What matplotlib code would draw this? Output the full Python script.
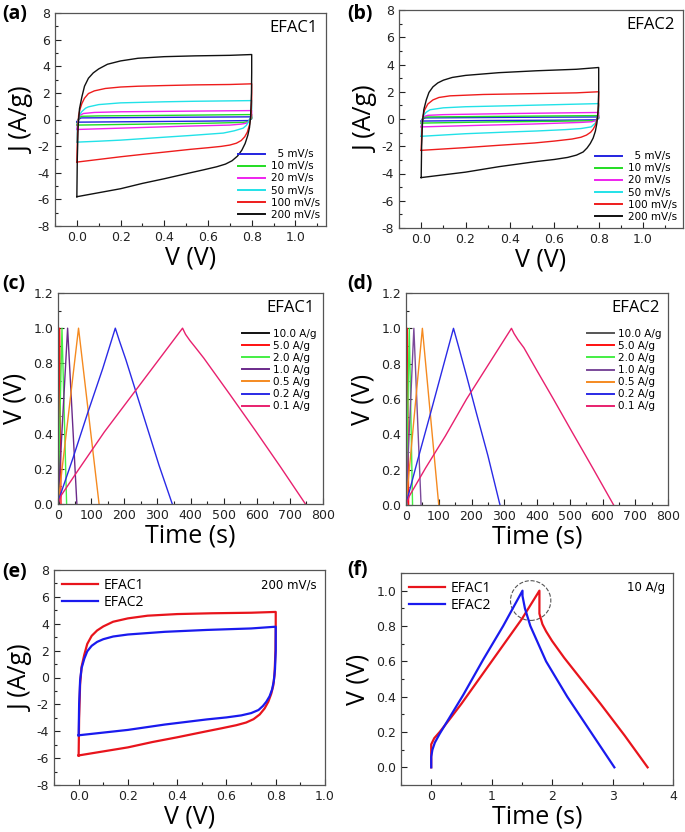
import matplotlib
matplotlib.use('Agg')
import matplotlib.pyplot as plt
from matplotlib.ticker import MultipleLocator, FormatStrFormatter
from matplotlib.patches import Ellipse

plt.rcParams['font.family'] = ['DejaVu Sans']
plt.rcParams['axes.unicode_minus'] = False

# ---------------- CV data, EFAC1 (closed loops, V in V, J in A/g) ----------------
cv1_labels = ['  5 mV/s', '10 mV/s', '20 mV/s', '50 mV/s', '100 mV/s', '200 mV/s']
cv_colors = ['#2424e0', '#22dd22', '#ee22ee', '#22e2e8', '#ee1c1c', '#111111']

cv1_5_v = [0, 0.005, 0.02, 0.4, 0.8, 0.8, 0.785, 0.6, 0.3, 0.0]
cv1_5_j = [-0.2, 0.0, 0.12, 0.16, 0.2, 0.05, -0.08, -0.12, -0.16, -0.2]
cv1_10_v = [0, 0.005, 0.02, 0.1, 0.4, 0.8, 0.8, 0.785, 0.76, 0.6, 0.3, 0.0]
cv1_10_j = [-0.42, 0.0, 0.24, 0.27, 0.31, 0.37, 0.1, -0.15, -0.22, -0.28, -0.35, -0.42]
cv1_20_v = [0, 0.004, 0.012, 0.03, 0.08, 0.2, 0.4, 0.6, 0.8, 0.8, 0.79, 0.775, 0.75, 0.7, 0.5, 0.3, 0.1, 0.0]
cv1_20_j = [-0.75, -0.2, 0.3, 0.45, 0.53, 0.58, 0.61, 0.64, 0.67, 0.3, -0.1, -0.28, -0.35, -0.42, -0.5, -0.6, -0.7, -0.75]
cv1_50_v = [0, 0.003, 0.01, 0.023, 0.04, 0.053, 0.1, 0.2, 0.4, 0.54, 0.7, 0.8, 0.8, 0.795, 0.785, 0.775,
            0.761, 0.72, 0.67, 0.52, 0.4, 0.2, 0.1, 0.0]
cv1_50_j = [-1.7, -0.5, 0.3, 0.6, 0.85, 0.95, 1.12, 1.25, 1.33, 1.37, 1.4, 1.42, 0.8, 0.2, -0.2, -0.45,
            -0.65, -0.85, -1.02, -1.2, -1.33, -1.55, -1.63, -1.7]
cv1_100_v = [0, 0.003, 0.008, 0.015, 0.023, 0.035, 0.053, 0.08, 0.13, 0.2, 0.28, 0.4, 0.54, 0.7, 0.8, 0.8,
             0.797, 0.79, 0.78, 0.768, 0.752, 0.73, 0.7, 0.66, 0.6, 0.52, 0.4, 0.3, 0.2, 0.1, 0.0]
cv1_100_j = [-3.2, -1.0, 0.3, 0.8, 1.2, 1.6, 1.95, 2.15, 2.33, 2.44, 2.5, 2.55, 2.6, 2.63, 2.68, 1.5,
             0.3, -0.4, -0.95, -1.3, -1.58, -1.78, -1.92, -2.02, -2.12, -2.24, -2.45, -2.62, -2.8, -3.0, -3.2]
cv1_200_v = [0.0, 0.002, 0.006, 0.012, 0.023, 0.035, 0.053, 0.075, 0.1, 0.14, 0.2, 0.28, 0.4, 0.54, 0.7, 0.8,
             0.8, 0.799, 0.795, 0.79, 0.782, 0.77, 0.755, 0.735, 0.71, 0.68, 0.64, 0.58, 0.52, 0.4, 0.3, 0.2,
             0.1, 0.0]
cv1_200_j = [-5.8, -3.0, -0.5, 0.8, 1.7, 2.5, 3.1, 3.5, 3.8, 4.15, 4.4, 4.6, 4.72, 4.78, 4.82, 4.88,
             3.5, 2.0, 0.2, -0.6, -1.2, -1.8, -2.3, -2.75, -3.1, -3.35, -3.55, -3.78, -4.0, -4.45, -4.8, -5.2,
             -5.5, -5.8]

# ---------------- CV data, EFAC2 ----------------
cv2_5_v = [0, 0.005, 0.02, 0.4, 0.8, 0.8, 0.785, 0.6, 0.3, 0.0]
cv2_5_j = [-0.15, 0.0, 0.08, 0.12, 0.15, 0.03, -0.06, -0.09, -0.11, -0.15]
cv2_10_v = [0, 0.005, 0.02, 0.4, 0.8, 0.8, 0.785, 0.6, 0.3, 0.0]
cv2_10_j = [-0.3, 0.0, 0.15, 0.2, 0.25, 0.08, -0.12, -0.17, -0.22, -0.3]
cv2_20_v = [0, 0.004, 0.012, 0.03, 0.1, 0.4, 0.8, 0.8, 0.79, 0.77, 0.72, 0.5, 0.25, 0.0]
cv2_20_j = [-0.58, -0.1, 0.18, 0.27, 0.32, 0.4, 0.48, 0.2, -0.08, -0.2, -0.25, -0.37, -0.47, -0.58]
cv2_50_v = [0, 0.003, 0.012, 0.023, 0.04, 0.1, 0.2, 0.42, 0.6, 0.8, 0.8, 0.795, 0.785, 0.766, 0.72, 0.65,
            0.52, 0.4, 0.2, 0.0]
cv2_50_j = [-1.27, -0.3, 0.3, 0.5, 0.68, 0.82, 0.9, 0.98, 1.05, 1.13, 0.6, 0.1, -0.3, -0.58, -0.7, -0.78,
            -0.88, -0.95, -1.08, -1.27]
cv2_100_v = [0, 0.003, 0.008, 0.015, 0.03, 0.053, 0.08, 0.13, 0.28, 0.53, 0.7, 0.8, 0.8, 0.795, 0.785, 0.775,
             0.764, 0.745, 0.72, 0.68, 0.6, 0.51, 0.35, 0.2, 0.1, 0.0]
cv2_100_j = [-2.3, -0.8, 0.2, 0.65, 1.1, 1.4, 1.58, 1.7, 1.8, 1.87, 1.92, 2.0, 1.0, 0.1, -0.45, -0.75,
             -0.97, -1.18, -1.34, -1.47, -1.62, -1.76, -1.93, -2.1, -2.2, -2.3]
cv2_200_v = [0, 0.002, 0.006, 0.012, 0.023, 0.035, 0.053, 0.075, 0.1, 0.14, 0.2, 0.35, 0.52, 0.7, 0.8,
             0.8, 0.797, 0.792, 0.785, 0.775, 0.762, 0.748, 0.73, 0.7, 0.66, 0.6, 0.52, 0.35, 0.2, 0.1, 0.0]
cv2_200_j = [-4.3, -2.0, -0.2, 0.7, 1.4, 1.95, 2.36, 2.65, 2.85, 3.05, 3.2, 3.4, 3.54, 3.65, 3.78,
             2.0, 0.6, -0.3, -0.9, -1.4, -1.8, -2.12, -2.42, -2.65, -2.82, -2.97, -3.12, -3.5, -3.9, -4.1, -4.3]

# ---------------- GCD data (time in s, V in V) ----------------
gcd_labels = ['10.0 A/g', '5.0 A/g', '2.0 A/g', '1.0 A/g', '0.5 A/g', '0.2 A/g', '0.1 A/g']
gcd_colors = ['#111111', '#ff1010', '#44ee44', '#6a2a8a', '#f58a20', '#2a2ae6', '#e8206e']

g1_t = [
    [0, 1.8, 3.6],
    [0, 5, 9],
    [0, 12, 26],
    [0, 29, 57],
    [0, 62, 124],
    [0, 5, 45, 90, 135, 173, 185, 205, 235, 270, 305, 345],
    [0, 10, 60, 140, 220, 300, 376, 385, 398, 415, 440, 520, 595, 672, 747],
]
g1_v = [
    [0, 1, 0],
    [0, 1, 0],
    [0, 1, 0],
    [0, 1, 0],
    [0, 1, 0],
    [0, 0.04, 0.26, 0.52, 0.77, 1.0, 0.93, 0.82, 0.64, 0.43, 0.22, 0.0],
    [0, 0.05, 0.19, 0.41, 0.61, 0.81, 1.0, 0.965, 0.93, 0.89, 0.83, 0.62, 0.42, 0.21, 0.0],
]
g2_t = [
    [0, 1.5, 3.0],
    [0, 4, 8],
    [0, 10, 20],
    [0, 24, 46],
    [0, 50, 100],
    [0, 5, 35, 75, 110, 145, 160, 185, 215, 250, 287],
    [0, 10, 60, 120, 185, 250, 322, 330, 342, 360, 400, 450, 505, 570, 634],
]
g2_v = [
    [0, 1, 0],
    [0, 1, 0],
    [0, 1, 0],
    [0, 1, 0],
    [0, 1, 0],
    [0, 0.04, 0.25, 0.52, 0.76, 1.0, 0.9, 0.73, 0.52, 0.28, 0.0],
    [0, 0.05, 0.21, 0.39, 0.6, 0.79, 1.0, 0.97, 0.935, 0.89, 0.76, 0.6, 0.42, 0.21, 0.0],
]

# ---------------- GCD at 10 A/g, panel (f) ----------------
f1_t = [0, 0, 0.05, 0.14, 0.3, 0.5, 1.0, 1.5, 1.79, 1.79, 1.84, 1.9, 2.0, 2.2, 2.5, 2.8, 3.2, 3.58]
f1_v = [0, 0.13, 0.165, 0.2, 0.27, 0.36, 0.60, 0.84, 1.0, 0.87, 0.81, 0.77, 0.715, 0.62, 0.49, 0.36, 0.18, 0.0]
f2_t = [0, 0, 0.02, 0.06, 0.14, 0.3, 0.53, 0.86, 1.19, 1.51, 1.51, 1.55, 1.64, 1.9, 2.25, 2.64, 3.03]
f2_v = [0, 0.06, 0.1, 0.14, 0.19, 0.28, 0.41, 0.61, 0.8, 1.0, 0.97, 0.9, 0.8, 0.6, 0.4, 0.2, 0.0]

W, H = 685, 832
fig = plt.figure(figsize=(W / 100, H / 100), dpi=100)


def add_ax(left, top, right, bottom):
    return fig.add_axes([left / W, 1 - bottom / H, (right - left) / W, (bottom - top) / H])


def style(ax, xlim, ylim, xmaj, xmin, ymaj, ymin, xfmt, yfmt):
    ax.set_xlim(*xlim)
    ax.set_ylim(*ylim)
    ax.xaxis.set_major_locator(MultipleLocator(xmaj))
    ax.xaxis.set_minor_locator(MultipleLocator(xmin))
    ax.yaxis.set_major_locator(MultipleLocator(ymaj))
    ax.yaxis.set_minor_locator(MultipleLocator(ymin))
    ax.xaxis.set_major_formatter(FormatStrFormatter(xfmt))
    ax.yaxis.set_major_formatter(FormatStrFormatter(yfmt))
    ax.tick_params(which='both', direction='in', top=False, right=False, labelsize=9, colors='#222222')
    ax.tick_params(which='major', length=4, width=0.8)
    ax.tick_params(which='minor', length=2.5, width=0.8)
    for s in ax.spines.values():
        s.set_color('#555555')
        s.set_linewidth(0.9)


def thick_legend(leg, lw):
    for ln in leg.get_lines():
        ln.set_linewidth(lw)


label_font = dict(family='Open Sans', fontsize=18)
panel_font = dict(family='Open Sans', fontsize=14, fontweight='bold')

# (a)
ax = add_ax(55, 13, 326, 226)
cv1 = [(cv1_5_v, cv1_5_j), (cv1_10_v, cv1_10_j), (cv1_20_v, cv1_20_j),
       (cv1_50_v, cv1_50_j), (cv1_100_v, cv1_100_j), (cv1_200_v, cv1_200_j)]
for (v, j), c, lab in zip(cv1, cv_colors, cv1_labels):
    ax.plot(v, j, color=c, lw=1.0, label=lab)
style(ax, (-0.1, 1.14), (-8, 8), 0.2, 0.1, 2, 1, '%.1f', '%d')
ax.set_xlabel('V (V)', labelpad=1, **label_font)
ax.set_ylabel('J (A/g)', labelpad=2, **label_font)
ax.text(0.97, 0.93, 'EFAC1', transform=ax.transAxes, ha='right', va='center', family='Open Sans', fontsize=12)
leg = ax.legend(loc='lower right', frameon=False, fontsize=7.5, handlelength=2.6, labelspacing=0.2,
                borderaxespad=0.2, handletextpad=0.5)
thick_legend(leg, 1.4)

# (b)
ax = add_ax(399, 10, 683, 228)
cv2 = [(cv2_5_v, cv2_5_j), (cv2_10_v, cv2_10_j), (cv2_20_v, cv2_20_j),
       (cv2_50_v, cv2_50_j), (cv2_100_v, cv2_100_j), (cv2_200_v, cv2_200_j)]
for (v, j), c, lab in zip(cv2, cv_colors, cv1_labels):
    ax.plot(v, j, color=c, lw=1.0, label=lab)
style(ax, (-0.1, 1.18), (-8, 8), 0.2, 0.1, 2, 1, '%.1f', '%d')
ax.set_xlabel('V (V)', labelpad=1, **label_font)
ax.set_ylabel('J (A/g)', labelpad=2, **label_font)
ax.text(0.97, 0.93, 'EFAC2', transform=ax.transAxes, ha='right', va='center', family='Open Sans', fontsize=12)
leg = ax.legend(loc='lower right', frameon=False, fontsize=7.5, handlelength=2.6, labelspacing=0.2,
                borderaxespad=0.2, handletextpad=0.5)
thick_legend(leg, 1.4)

# (c)
ax = add_ax(58, 293, 323, 504)
for t, v, c, lab in zip(g1_t, g1_v, gcd_colors, gcd_labels):
    ax.plot(t, v, color=c, lw=1.0, label=lab)
style(ax, (0, 800), (0, 1.2), 100, 50, 0.2, 0.1, '%d', '%.1f')
ax.set_xlabel('Time (s)', labelpad=1, **label_font)
ax.set_ylabel('V (V)', labelpad=4, **label_font)
ax.text(0.97, 0.93, 'EFAC1', transform=ax.transAxes, ha='right', va='center', family='Open Sans', fontsize=12)
leg = ax.legend(loc='upper right', bbox_to_anchor=(1.0, 0.86), frameon=False, fontsize=7.5, handlelength=2.6,
                labelspacing=0.2, borderaxespad=0.2, handletextpad=0.4)
thick_legend(leg, 1.4)

# (d)
ax = add_ax(406, 293, 668, 505)
gcd_colors2 = ['#555555'] + gcd_colors[1:3] + ['#7b4a9a'] + gcd_colors[4:]
for t, v, c, lab in zip(g2_t, g2_v, gcd_colors2, gcd_labels):
    ax.plot(t, v, color=c, lw=1.0, label=lab)
style(ax, (0, 800), (0, 1.2), 100, 50, 0.2, 0.1, '%d', '%.1f')
ax.set_xlabel('Time (s)', labelpad=1, **label_font)
ax.set_ylabel('V (V)', labelpad=4, **label_font)
ax.text(0.97, 0.93, 'EFAC2', transform=ax.transAxes, ha='right', va='center', family='Open Sans', fontsize=12)
leg = ax.legend(loc='upper right', bbox_to_anchor=(1.0, 0.86), frameon=False, fontsize=7.5, handlelength=2.6,
                labelspacing=0.2, borderaxespad=0.2, handletextpad=0.4)
thick_legend(leg, 1.4)

# (e)
ax = add_ax(54, 570, 325, 785)
ax.plot(cv1_200_v, cv1_200_j, color='#e8141c', lw=1.6, label='EFAC1')
ax.plot(cv2_200_v, cv2_200_j, color='#1a1aee', lw=1.6, label='EFAC2')
style(ax, (-0.1, 1.0), (-8, 8), 0.2, 0.1, 2, 1, '%.1f', '%d')
ax.set_xlabel('V (V)', labelpad=1, **label_font)
ax.set_ylabel('J (A/g)', labelpad=2, **label_font)
ax.text(0.97, 0.93, '200 mV/s', transform=ax.transAxes, ha='right', va='center', fontsize=8.5)
ax.legend(loc='upper left', frameon=False, prop={'family': 'Open Sans', 'size': 10}, handlelength=2.6,
          labelspacing=0.1, borderaxespad=0.2, handletextpad=0.4)

# (f)
ax = add_ax(401, 573, 673, 785)
ax.plot(f1_t, f1_v, color='#e8141c', lw=1.6, label='EFAC1')
ax.plot(f2_t, f2_v, color='#1a1aee', lw=1.6, label='EFAC2')
ax.add_patch(Ellipse((1.645, 0.944), 0.667, 0.225, fill=False, ls='--', lw=0.8, color='#555555'))
style(ax, (-0.5, 4), (-0.1, 1.1), 1, 0.5, 0.2, 0.1, '%d', '%.1f')
ax.set_xlabel('Time (s)', labelpad=1, **label_font)
ax.set_ylabel('V (V)', labelpad=4, **label_font)
ax.text(0.97, 0.93, '10 A/g', transform=ax.transAxes, ha='right', va='center', fontsize=8.5)
ax.legend(loc='upper left', frameon=False, prop={'family': 'Open Sans', 'size': 10}, handlelength=2.6,
          labelspacing=0.1, borderaxespad=0.2, handletextpad=0.4)

# panel letters
for lab, x, y in [('(a)', 2, 14), ('(b)', 347, 14), ('(c)', 2, 284), ('(d)', 347, 284),
                  ('(e)', 2, 572), ('(f)', 347, 570)]:
    fig.text(x / W, 1 - y / H, lab, va='center', ha='left', **panel_font)

fig.savefig('out.png', dpi=100)
